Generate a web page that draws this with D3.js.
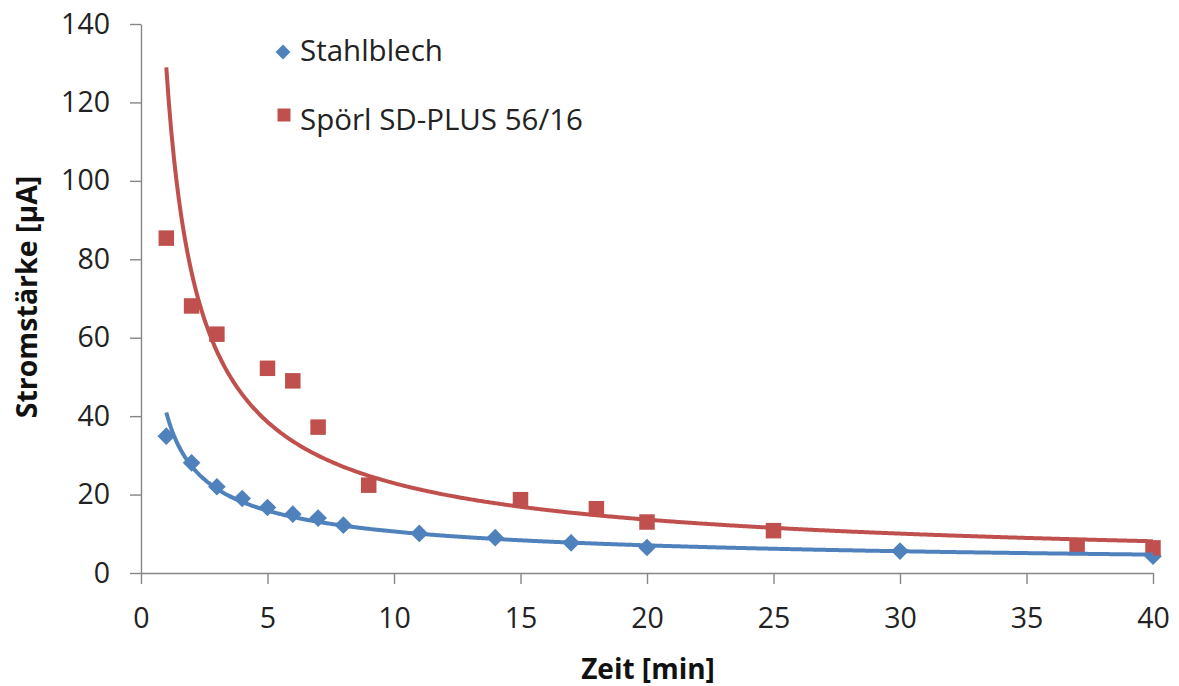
<!DOCTYPE html>
<html>
<head>
<meta charset="utf-8">
<script src="https://cdn.jsdelivr.net/npm/d3@7"></script>
<style>
  html, body { margin: 0; padding: 0; background: #ffffff; }
  svg { display: block; font-family: "Open Sans", "DejaVu Sans", sans-serif; }
</style>
</head>
<body>
<svg id="chart" width="1179" height="686"></svg>
<script>
// ---- data ----
const stahlX = [1, 2, 3, 4, 5, 6, 7, 8, 11, 14, 17, 20, 30, 40];
const stahlY = [34.9, 28.1, 22.0, 19.0, 16.7, 15.0, 14.0, 12.2, 10.1, 9.0, 7.7, 6.5, 5.6, 4.3];
const spoerlX = [1, 2, 3, 5, 6, 7, 9, 15, 18, 20, 25, 37, 40];
const spoerlY = [85.4, 68.1, 60.9, 52.2, 49.0, 37.2, 22.4, 18.7, 16.4, 13.0, 10.8, 7.0, 6.4];
const seriesNames = ["Stahlblech", "Spörl SD-PLUS 56/16"];
const xTicks = [0, 5, 10, 15, 20, 25, 30, 35, 40];
const yTicks = [0, 20, 40, 60, 80, 100, 120, 140];
const xTitle = "Zeit [min]";
const yTitle = "Stromstärke [µA]";

// ---- layout ----
const W = 1179, H = 686;
const m = { left: 141, top: 24, right: 26, bottom: 113 };
const blue = "#4F81BD", red = "#C0504D", axisCol = "#868686";

const svg = d3.select("#chart");
const x = d3.scaleLinear().domain([0, 40]).range([m.left, W - m.right]);
const y = d3.scaleLinear().domain([0, 140]).range([H - m.bottom, m.top]);

// power-law trendline (least squares in log-log space)
function powerFit(xs, ys) {
  const lx = xs.map(Math.log), ly = ys.map(Math.log);
  const mx = d3.mean(lx), my = d3.mean(ly);
  let sxy = 0, sxx = 0;
  lx.forEach((v, i) => { sxy += (v - mx) * (ly[i] - my); sxx += (v - mx) * (v - mx); });
  const b = sxy / sxx, a = Math.exp(my - b * mx);
  return t => a * Math.pow(t, b);
}

// axes
const yAxis = d3.axisLeft(y).tickValues(yTicks).tickSize(11).tickPadding(20).tickSizeOuter(0);
const xAxis = d3.axisBottom(x).tickValues(xTicks).tickSize(11).tickPadding(24).tickSizeOuter(0);

const gy = svg.append("g").attr("transform", `translate(${m.left},0)`).call(yAxis);
const gx = svg.append("g").attr("transform", `translate(0,${H - m.bottom})`).call(xAxis);
[gx, gy].forEach(g => {
  g.selectAll("path.domain").attr("stroke", axisCol).attr("stroke-width", 1.4);
  g.selectAll(".tick line").attr("stroke", axisCol).attr("stroke-width", 1.4);
  g.selectAll(".tick text").attr("fill", "#222").style("font-size", "28.5px")
    .style("font-family", "'Open Sans', sans-serif");
});

// markers
const gm = svg.append("g");
const dsz = 12.5;
gm.selectAll("path.stahl").data(stahlX.map((v, i) => [v, stahlY[i]])).enter()
  .append("path").attr("class", "stahl")
  .attr("d", d3.symbol().type(d3.symbolSquare).size(dsz * dsz)())
  .attr("transform", d => `translate(${x(d[0])},${y(d[1])}) rotate(45)`)
  .attr("fill", blue);
const ssz = 15.5;
gm.selectAll("path.spoerl").data(spoerlX.map((v, i) => [v, spoerlY[i]])).enter()
  .append("path").attr("class", "spoerl")
  .attr("d", d3.symbol().type(d3.symbolSquare).size(ssz * ssz)())
  .attr("transform", d => `translate(${x(d[0])},${y(d[1])})`)
  .attr("fill", red);

// trendlines
const fitS = powerFit(stahlX, stahlY), fitP = powerFit(spoerlX, spoerlY);
const tGrid = d3.range(1, 40.001, 0.1);
const line = f => d3.line().x(t => x(t)).y(t => y(f(t))).curve(d3.curveMonotoneX)(tGrid);
svg.append("path").attr("d", line(fitP)).attr("fill", "none").attr("stroke", red).attr("stroke-width", 4);
svg.append("path").attr("d", line(fitS)).attr("fill", "none").attr("stroke", blue).attr("stroke-width", 4);

// axis titles
svg.append("text").attr("x", 648).attr("y", 679).attr("text-anchor", "middle")
  .style("font-size", "28px").style("font-weight", "bold").attr("fill", "#111").text(xTitle);
svg.append("text").attr("transform", "translate(37,297) rotate(-90)").attr("text-anchor", "middle")
  .style("font-size", "28.5px").style("font-weight", "bold").attr("fill", "#111").text(yTitle);

// legend
const lg = svg.append("g");
lg.append("path").attr("d", d3.symbol().type(d3.symbolSquare).size(10.5 * 10.5)())
  .attr("transform", "translate(283,52) rotate(45)").attr("fill", blue);
lg.append("text").attr("x", 300).attr("y", 61).style("font-size", "29.5px").attr("fill", "#222").text(seriesNames[0]);
lg.append("path").attr("d", d3.symbol().type(d3.symbolSquare).size(13 * 13)())
  .attr("transform", "translate(284,115)").attr("fill", red);
lg.append("text").attr("x", 300).attr("y", 130).style("font-size", "29.5px").attr("fill", "#222").text(seriesNames[1]);
</script>
</body>
</html>
